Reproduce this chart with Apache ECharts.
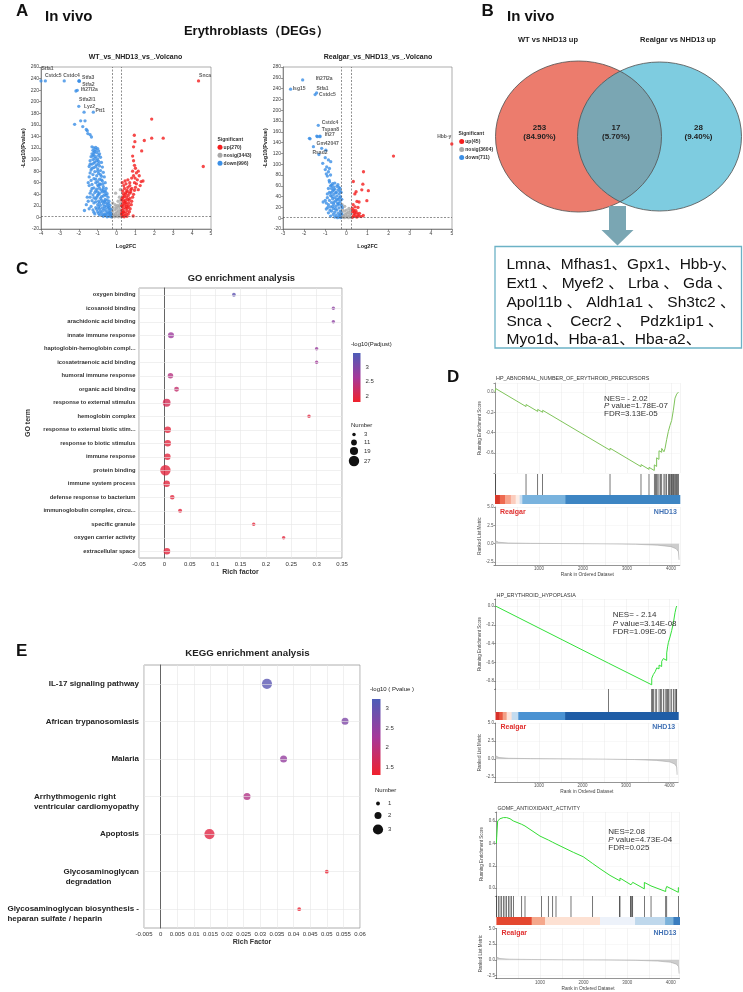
<!DOCTYPE html>
<html><head><meta charset="utf-8">
<script src="https://cdn.jsdelivr.net/npm/echarts@6/dist/echarts.min.js"></script>
<style>html,body{margin:0;padding:0;background:#fff}#c{width:743px;height:992px}</style>
</head><body><div id="c"></div>
<script>
// ================= DATA =================
// ---- Panel A: volcano plots ----
const volcFcCut = 0.25;
const volcPCut = 1.3;
const volcLNames = ['up(270)', 'nosig(3443)', 'down(996)'];
const volcRNames = ['up(45)', 'nosig(3604)', 'down(711)'];
const volcLUp = [[0.3,2],[0.35,5],[0.45,3],[0.3,8],[0.5,7],[0.4,10],[0.28,12],[0.55,12],[0.35,15],[0.48,16],[0.6,17],[0.3,19],[0.42,21],[0.55,22],[0.33,24],[0.5,26],[0.65,25],[0.38,28],[0.45,30],[0.58,31],[0.3,33],[0.52,35],[0.4,37],[0.62,38],[0.35,41],[0.48,43],[0.7,42],[0.32,46],[0.55,47],[0.42,50],[0.75,48],[0.6,52],[0.38,55],[0.5,58],[0.28,30],[0.27,20],[0.26,6],[0.4,1],[0.55,2],[0.62,6],[0.68,10],[0.72,15],[0.65,20],[0.78,22],[0.8,28],[0.7,33],[0.85,35],[0.9,40],[0.75,44],[0.95,47],[0.3,60],[0.45,63],[0.85,106],[0.9,98],[0.95,90],[1.0,85],[0.85,80],[1.05,77],[0.9,72],[1.2,72],[0.8,68],[1.1,65],[1.3,62],[0.95,60],[1.25,55],[0.7,55],[0.8,50],[1.0,52],[1.15,48],[0.9,122],[0.94,142],[0.97,131],[1.47,133],[1.86,170],[1.86,137],[2.47,137],[1.33,115],[4.59,88],[0.88,2.5],[0.6,65],[0.7,60],[1.05,58],[1.4,63],[0.98,68],[1.15,80],[0.35,35],[0.44,25],[0.52,18],[0.36,9],[0.47,40],[0.58,44],[0.66,30]];
const volcLNosig = [[-0.2,2],[-0.1,1],[0,2],[0.1,1],[0.2,3],[-0.15,5],[0.05,4],[0.15,6],[-0.05,7],[0.22,9],[-0.22,10],[0.1,11],[-0.1,13],[0,15],[0.18,14],[-0.18,17],[0.12,18],[0.05,21],[-0.08,22],[0.2,24],[0.22,30],[-0.05,42],[0.2,48],[0.15,35],[-0.2,25],[0.08,28],[-0.12,3],[0.02,9],[-0.25,1],[0.25,1],[-0.02,18],[0.15,20],[-0.3,4],[-0.35,8],[-0.28,14]];
const volcLDown = [[-2.22,161],[-1.9,167],[-1.67,167],[-1.79,157],[-1.55,150],[-1.52,145],[-1.33,139],[-1.4,143],[-1.6,152],[-1.3,122],[-1.2,120],[-1.1,121],[-1.0,119],[-1.25,116],[-1.15,114],[-0.95,115],[-1.05,112],[-1.3,110],[-1.2,108],[-0.9,110],[-1.35,105],[-1.1,105],[-0.85,104],[-1.25,100],[-1.0,101],[-1.4,98],[-0.95,97],[-1.15,96],[-0.8,95],[-1.3,92],[-1.05,91],[-0.9,89],[-1.45,88],[-1.2,86],[-0.75,87],[-1.0,84],[-1.35,82],[-0.85,81],[-1.15,79],[-1.4,77],[-0.95,76],[-0.7,78],[-1.25,74],[-1.05,72],[-0.8,71],[-1.45,70],[-0.65,70],[-1.2,67],[-0.9,66],[-1.35,64],[-1.0,62],[-0.75,63],[-1.1,60],[-0.6,60],[-1.3,57],[-0.85,57],[-1.45,55],[-0.95,54],[-0.7,53],[-1.2,51],[-0.55,50],[-1.05,49],[-0.8,47],[-1.35,46],[-0.65,45],[-1.15,43],[-0.9,42],[-0.5,41],[-1.25,39],[-1.0,38],[-0.7,37],[-1.4,35],[-0.45,35],[-0.85,33],[-1.1,32],[-0.6,31],[-1.3,29],[-0.95,28],[-0.4,28],[-0.75,27],[-1.2,25],[-0.5,24],[-1.0,22],[-0.85,21],[-0.35,21],[-1.35,19],[-0.65,19],[-1.1,17],[-0.45,16],[-0.9,15],[-0.3,14],[-1.25,13],[-0.7,12],[-0.55,11],[-1.0,10],[-0.35,9],[-0.8,8],[-0.45,7],[-1.15,6],[-0.6,5],[-0.3,4],[-0.9,4],[-0.4,2],[-0.7,2],[-0.28,1],[-0.5,1],[-1.5,28],[-1.6,22],[-1.55,35],[-1.45,15],[-1.7,12],[-1.0,56],[-0.9,50],[-1.1,46],[-0.75,44],[-0.95,40],[-1.05,35],[-0.8,36],[-0.55,38],[-0.65,28],[-0.9,25],[-1.1,27],[-0.55,20],[-0.75,16],[-0.95,18],[-0.4,12],[-0.6,15],[-0.85,11],[-0.5,8],[-0.65,6],[-0.75,4],[-0.35,5],[-0.55,3],[-1.05,14],[-1.2,9],[-0.95,7],[-0.45,19],[-0.7,23],[-0.6,26],[-0.5,30],[-0.8,30],[-1.2,34],[-1.0,44],[-0.7,49],[-0.9,58],[-1.1,66],[-0.85,74],[-1.0,80],[-1.1,88],[-0.95,93],[-1.2,94],[-1.05,98],[-1.15,102],[-1.25,106],[-0.95,107],[-1.1,117],[-1.2,112],[-0.3,7],[-0.38,17],[-0.42,24],[-0.62,40],[-0.72,58],[-0.58,45],[-0.8,65],[-1.3,85],[-1.4,92],[-1.5,60],[-1.3,50],[-1.4,42]];
const volcLLabeled = [[-4.0,236,'Stfa1'],[-3.77,236,''],[-2.77,236,'Cstdc5'],[-1.99,236,'Cstdc4'],[-1.98,236,'Stfa3'],[-1.97,235.5,'Stfa2'],[-2.15,218.5,''],[-2.08,219.7,'Ifi27l2a'],[-2.0,192,'Stfa2l1'],[-1.72,182,'Lyz2'],[-1.23,182,'Ptt1'],[4.34,236,'Snca']];
const volcRUp = [[0.33,68],[0.81,86],[0.78,63],[0.46,49],[0.73,52.6],[1.04,51],[0.97,32.4],[0.5,31],[0.41,21],[2.23,115],[0.3,2],[0.35,5],[0.45,3],[0.4,8],[0.5,10],[0.3,12],[0.55,6],[0.6,4],[0.35,15],[0.45,14],[0.7,3],[0.28,18],[0.5,2],[0.62,9],[0.38,11],[0.8,5],[0.32,25],[0.4,45],[0.6,30],[0.55,20]];
const volcRNosig = [[-0.2,2],[-0.1,1],[0,2],[0.1,1],[0.2,3],[-0.15,5],[0.05,4],[0.15,6],[-0.05,7],[0.22,9],[-0.22,10],[0.1,11],[-0.1,13],[0,15],[0.18,14],[-0.18,17],[0.12,18],[-0.08,22],[-0.2,25],[0.02,9],[-0.12,3],[0.25,1],[-0.25,12],[-0.3,6]];
const volcRDown = [[-1.72,147],[-1.4,152],[-1.25,152],[-0.97,126],[-1.12,101.6],[-0.85,108],[-0.74,104.6],[-0.93,95],[-0.85,86],[-0.81,70],[-0.7,61],[-1.75,148],[-1.3,118],[-1.0,112],[-0.75,60],[-0.6,58],[-0.45,59],[-0.35,57],[-0.7,55],[-0.55,54],[-0.4,52],[-0.3,50],[-0.65,50],[-0.8,48],[-0.5,47],[-0.35,45],[-0.6,44],[-0.75,42],[-0.45,41],[-0.28,40],[-0.55,38],[-0.9,38],[-0.65,36],[-0.38,35],[-0.8,33],[-0.5,32],[-0.3,31],[-0.7,29],[-0.42,28],[-0.6,26],[-0.85,25],[-0.25,24],[-0.5,22],[-0.75,21],[-0.35,19],[-0.62,18],[-0.95,17],[-0.45,15],[-0.28,13],[-0.7,13],[-0.55,11],[-0.85,10],[-0.38,9],[-0.62,7],[-0.3,6],[-0.48,5],[-0.75,4],[-0.35,3],[-0.55,2],[-0.27,1],[-0.42,1],[-1.1,30],[-1.0,33],[-0.95,28],[-0.9,45],[-0.85,55],[-0.65,64],[-0.55,65],[-0.8,67],[-0.9,78],[-0.95,82],[-1.0,90],[-0.8,92],[-0.75,80],[-0.4,62],[-0.3,55],[-0.25,48],[-0.22,35],[-0.2,20],[-0.22,8],[-0.58,30],[-0.68,40],[-0.48,48],[-0.32,38],[-0.78,15],[-0.88,20],[-0.52,17],[-0.4,25],[-0.65,22],[-0.45,35],[-0.72,47],[-0.6,52],[-0.35,27]];
const volcRLabeled = [[-2.07,256,'Ifi27l2a'],[-2.64,239,'Isg15'],[-1.48,229,'Stfa1'],[-1.41,232,'Cstdc5'],[-1.33,172,'Cstdc4'],[-1.37,151,'Tspan8'],[-1.25,151,'Ifi27'],[-1.56,132.4,'Gm42047'],[-1.17,129.4,'Rsad2'],[4.99,137.4,'Hbb-y']];

// ---- Panel B: Venn ----
const vennSets = ['WT vs NHD13 up', 'Realgar vs NHD13 up'];
const vennCounts = [253, 17, 28];
const vennPct = ['84.90%', '5.70%', '9.40%'];
const geneLines = ['Lmna、Mfhas1、Gpx1、Hbb-y、', 'Ext1 、 Myef2 、 Lrba 、 Gda 、', 'Apol11b 、 Aldh1a1 、 Sh3tc2 、', 'Snca 、  Cecr2 、  Pdzk1ip1 、', 'Myo1d、Hba-a1、Hba-a2、'];

// ---- Panel C: GO ----
const goTerms = ['oxygen binding','icosanoid binding','arachidonic acid binding','innate immune response','haptoglobin-hemoglobin compl...','icosatetraenoic acid binding','humoral immune response','organic acid binding','response to external stimulus','hemoglobin complex','response to external biotic stim...','response to biotic stimulus','immune response','protein binding','immune system process','defense response to bacterium','immunoglobulin complex, circu...','specific granule','oxygen carrier activity','extracellular space'];
const goRich = [0.137,0.333,0.333,0.013,0.300,0.300,0.012,0.024,0.0045,0.285,0.0065,0.0065,0.006,0.002,0.0045,0.0155,0.031,0.176,0.235,0.005];
const goNumber = [4,3,3,12,3,3,10,8,18,3,14,14,13,27,14,7,5,3,3,14];
const goLogP = [3.3,2.85,2.85,2.7,2.75,2.65,2.45,2.3,2.1,1.95,1.93,1.93,1.93,1.93,1.93,1.93,1.93,1.9,1.93,1.93];
const goColorTicks = [3, 2.5, 2];
const goSizeTicks = [3, 11, 19, 27];

// ---- Panel E: KEGG ----
const keggTerms = ['IL-17 signaling pathway','African trypanosomiasis','Malaria','Arrhythmogenic right\nventricular cardiomyopathy','Apoptosis','Glycosaminoglycan\n degradation','Glycosaminoglycan biosynthesis -\nheparan sulfate / heparin'];
const keggRich = [0.032,0.0555,0.037,0.026,0.0147,0.050,0.0417];
const keggNumber = [3,2,2,2,3,1,1];
const keggLogP = [3.1,2.7,2.45,2.1,1.5,1.35,1.35];
const keggColorTicks = [3, 2.5, 2, 1.5];
const keggSizeTicks = [1, 2, 3];

// ---- Panel D: GSEA ----
const gseaTitles = ['HP_ABNORMAL_NUMBER_OF_ERYTHROID_PRECURSORS','HP_ERYTHROID_HYPOPLASIA','GOMF_ANTIOXIDANT_ACTIVITY'];
const gseaNES = ['NES= - 2.02','NES= - 2.14','NES=2.08'];
const gseaP = ['1.78E-07','3.14E-08','4.73E-04'];
const gseaFDR = ['FDR=3.13E-05','FDR=1.09E-05','FDR=0.025'];
const gseaGroups = ['Realgar','NHD13'];
const gseaRankMax = 4200;
const gsea1EsTicks = ['0.0','-0.2','-0.4','-0.6'];
const gsea2EsTicks = ['0.0','-0.2','-0.4','-0.6','-0.8'];
const gsea3EsTicks = ['0.6','0.4','0.2','0.0'];
const gsea1Curve = [[0,0.0],[15,0.035],[705,-0.143],[706,-0.123],[970,-0.191],[971,-0.171],[1083,-0.2],[1084,-0.18],[2614,-0.575],[2615,-0.555],[3318,-0.737],[3319,-0.717],[3500,-0.764],[3501,-0.744],[3620,-0.775],[3621,-0.72],[3673,-0.735],[3674,-0.65],[3726,-0.665],[3727,-0.58],[3788,-0.595],[3789,-0.557],[3840,-0.59],[3864,-0.597],[3865,-0.557],[3900,-0.567],[3901,-0.47],[3938,-0.48],[3939,-0.39],[3976,-0.4],[3977,-0.33],[4014,-0.34],[4015,-0.28],[4052,-0.29],[4053,-0.18],[4090,-0.19],[4091,-0.06],[4128,-0.07],[4129,-0.02],[4168,-0.03],[4169,0.0],[4183,0.0]];
const gsea1Hits = [15,705,970,1083,2614,3318,3500,3621,3645,3674,3700,3727,3760,3789,3840,3865,3901,3939,3960,3977,4000,4015,4035,4053,4070,4091,4110,4129,4150,4169];
const gsea1Bar = [[0,110],[110,230],[230,360],[360,470],[470,560],[560,620],[620,1600],[1600,4200]];
const gsea1BarColors = ['#D93A2B','#EE6A50','#F7A38C','#FBCDBE','#FDEEE8','#C9DEF1','#79B3DE','#3D85C3'];
const gsea1Metric = [[0,0.45],[20,0.3],[80,0.2],[300,0.1],[800,0.05],[1500,0.02],[2500,-0.02],[3200,-0.08],[3700,-0.2],[4000,-0.4],[4120,-0.7],[4170,-1.1],[4183,-2.2]];
const gsea2Curve = [[0,0],[2600,-0.61],[2601,-0.595],[3591,-0.84],[3592,-0.77],[3628,-0.78],[3629,-0.73],[3670,-0.74],[3671,-0.7],[3705,-0.71],[3706,-0.66],[3759,-0.67],[3760,-0.63],[3820,-0.645],[3821,-0.59],[3858,-0.6],[3859,-0.56],[3935,-0.58],[3936,-0.5],[3955,-0.505],[3956,-0.435],[3973,-0.44],[3974,-0.39],[4011,-0.4],[4012,-0.33],[4050,-0.34],[4051,-0.26],[4088,-0.27],[4089,-0.18],[4126,-0.19],[4127,-0.07],[4150,-0.075],[4151,-0.02],[4164,-0.025],[4165,0.0],[4175,0.0]];
const gsea2Hits = [2600,3591,3610,3628,3671,3706,3760,3790,3821,3859,3900,3936,3956,3974,4012,4051,4089,4127,4151,4165];
const gsea2Bar = [[0,90],[90,165],[165,256],[256,371],[371,524],[524,1600],[1600,4200]];
const gsea2BarColors = ['#D7302A','#E9573F','#F3A086','#FBE5DC','#C4DCF0','#4A92D2','#1F5DA6'];
const gsea2Metric = [[0,0.45],[20,0.3],[80,0.2],[300,0.1],[800,0.05],[1500,0.02],[2500,-0.02],[3200,-0.08],[3700,-0.2],[4000,-0.4],[4120,-0.7],[4165,-1.1],[4175,-2.2]];
const gsea3Curve = [[0,0.40],[6,0.45],[29,0.60],[44,0.605],[64,0.615],[83,0.62],[121,0.63],[159,0.63],[197,0.632],[235,0.63],[271,0.625],[312,0.62],[389,0.60],[580,0.57],[656,0.555],[694,0.55],[1000,0.465],[1038,0.46],[1191,0.43],[1291,0.41],[1367,0.395],[1711,0.33],[1765,0.32],[1994,0.28],[2208,0.22],[2376,0.174],[2606,0.114],[2834,0.065],[2835,0.09],[3087,0.03],[3088,0.045],[3126,0.04],[3127,0.052],[3393,-0.006],[3394,0.051],[3546,0.02],[3547,0.03],[3883,-0.03],[3884,-0.01],[3906,-0.015],[3907,0.015],[4173,-0.037],[4174,0.005],[4190,0.0]];
const gsea3Hits = [6,44,83,121,159,197,235,274,312,350,389,580,656,1038,1191,1291,1367,1711,2208,2825,2835,3080,3088,3110,3126,3394,3547,3884,3907,4174];
const gsea3Bar = [[0,809],[809,1115],[1115,2376],[2376,3180],[3180,3869],[3869,4060],[4060,4200]];
const gsea3BarColors = ['#E4472F','#F5A88C','#FDE1D3','#EDF2FA','#BFD8EC','#7BB2DA','#3A7DBF'];
const gsea3Metric = [[0,0.45],[20,0.3],[80,0.2],[300,0.1],[800,0.05],[1500,0.02],[2500,-0.02],[3200,-0.08],[3700,-0.2],[4000,-0.4],[4130,-0.7],[4180,-1.1],[4190,-2.2]];

// ================= BUILD =================
const FONT = '"Liberation Sans", Arial, Helvetica, sans-serif';
const C_UP = '#F41D1D', C_NS = '#A8A8A8', C_DN = '#3B8FE6';
const GRAD = ['#F0212C', '#A5389A', '#4D5DB8'];
const grid = [], xAxis = [], yAxis = [], series = [], graphic = [], visualMap = [];

function T(x, y, text, o) {
  graphic.push({type: 'text', x: x, y: y, silent: true, z: 100,
    style: Object.assign({text: String(text), fontFamily: FONT, fontSize: 6, fill: '#222', align: 'left', verticalAlign: 'middle'}, o || {})});
}
function addGrid(l, t, w, h, extra) {
  grid.push(Object.assign({left: l, top: t, width: w, height: h, containLabel: false}, extra || {}));
  return grid.length - 1;
}

// ---------- Volcano ----------
function volcano(cfg) {
  const gi = addGrid(cfg.rect[0], cfg.rect[1], cfg.rect[2], cfg.rect[3], {show: true, borderColor: '#777', borderWidth: 0.6});
  const axLine = {onZero: false, lineStyle: {color: '#555', width: 0.6}};
  xAxis.push({gridIndex: gi, type: 'value', min: cfg.xMin, max: cfg.xMax, interval: 1, axisLine: axLine,
    axisTick: {length: 2, lineStyle: {color: '#555', width: 0.6}},
    axisLabel: {fontSize: 5, color: '#444', margin: 2, fontFamily: FONT}, splitLine: {show: false},
    name: 'Log2FC', nameLocation: 'middle', nameGap: 14, nameTextStyle: {fontSize: 5.5, fontWeight: 'bold', color: '#222', fontFamily: FONT}});
  yAxis.push({gridIndex: gi, type: 'value', min: -20, max: cfg.yMax, interval: 20, axisLine: axLine,
    axisTick: {length: 2, lineStyle: {color: '#555', width: 0.6}},
    axisLabel: {fontSize: 5, color: '#444', margin: 2, fontFamily: FONT}, splitLine: {show: false},
    name: '-Log10(Pvalue)', nameLocation: 'middle', nameGap: cfg.yGap, nameRotate: 90,
    nameTextStyle: {fontSize: 5.5, fontWeight: 'bold', color: '#222', fontFamily: FONT}});
  const base = {type: 'scatter', xAxisIndex: gi, yAxisIndex: gi, symbolSize: 3.3, silent: true, animation: false};
  series.push(Object.assign({}, base, {name: cfg.names[1], data: cfg.nosig, itemStyle: {color: C_NS},
    markLine: {silent: true, symbol: ['none', 'none'], label: {show: false}, animation: false,
      lineStyle: {type: [2, 1.5], color: '#444', width: 0.6},
      data: [{xAxis: -volcFcCut}, {xAxis: volcFcCut}, {yAxis: volcPCut}]}}));
  series.push(Object.assign({}, base, {name: cfg.names[0], data: cfg.up, itemStyle: {color: C_UP}}));
  series.push(Object.assign({}, base, {name: cfg.names[2], data: cfg.down, itemStyle: {color: C_DN}}));
  const lab = cfg.labeled.map(p => ({
    value: [p[0], p[1]],
    itemStyle: {color: p[0] > 0 ? C_UP : C_DN},
    label: {show: !!p[2], formatter: p[2], position: 'inside', offset: cfg.offsets[p[2]] || [0, 0],
      fontSize: 5, fontWeight: 'bold', color: '#333', fontFamily: FONT}
  }));
  series.push(Object.assign({}, base, {name: 'labeled', data: lab, z: 5}));
  T(cfg.leg[0], cfg.leg[1], 'Significant', {fontSize: 5, fontWeight: 'bold', fill: '#333'});
  const cols = [C_UP, C_NS, C_DN];
  cfg.names.forEach((n, i) => {
    const y = cfg.leg[1] + 8 * (i + 1);
    graphic.push({type: 'circle', silent: true, shape: {cx: cfg.leg[2], cy: y, r: 2.5}, style: {fill: cols[i]}});
    T(cfg.leg[2] + 3.6, y, n, {fontSize: 5, fontWeight: 'bold', fill: '#333'});
  });
}
volcano({rect: [41, 67, 170, 162], xMin: -4, xMax: 5, yMax: 260, yGap: 15, names: volcLNames,
  up: volcLUp, nosig: volcLNosig, down: volcLDown, labeled: volcLLabeled,
  offsets: {Stfa1: [6.5, -12], Cstdc5: [-11, -5], Cstdc4: [-7.5, -5], Stfa3: [9, -3], Stfa2: [9, 3.5], Ifi27l2a: [12, -0.5], Stfa2l1: [8.5, -7], Lyz2: [5.5, -6], Ptt1: [7, -2], Snca: [6.5, -5]},
  leg: [217.5, 139.3, 220]});
volcano({rect: [283, 67, 169, 162], xMin: -3, xMax: 5, yMax: 280, yGap: 13.5, names: volcRNames,
  up: volcRUp, nosig: volcRNosig, down: volcRDown, labeled: volcRLabeled,
  offsets: {Ifi27l2a: [21.5, -1.5], Isg15: [8.5, -1], Stfa1: [7.4, -6.2], Cstdc5: [10.8, 1.3], Cstdc4: [11.7, -2.6], Tspan8: [13, -7.4], Ifi27: [9.7, -1.7], Gm42047: [14.2, -3.4], Rsad2: [-1.7, 4.4], 'Hbb-y': [-7.5, -7.3]},
  leg: [458.5, 133.5, 461.7]});

T(135.5, 57.3, 'WT_vs_NHD13_vs_.Volcano', {fontSize: 7, fontWeight: 'bold', align: 'center'});
T(378, 57.3, 'Realgar_vs_NHD13_vs_.Volcano', {fontSize: 7, fontWeight: 'bold', align: 'center'});
T(16, 11, 'A', {fontSize: 17, fontWeight: 'bold', fill: '#111'});
T(45, 16.5, 'In vivo', {fontSize: 15, fontWeight: 'bold', fill: '#111'});
T(256.5, 31.5, 'Erythroblasts（DEGs）', {fontSize: 13, fontWeight: 'bold', align: 'center', fill: '#111'});

// ---------- Venn ----------
T(481.5, 11, 'B', {fontSize: 17, fontWeight: 'bold', fill: '#111'});
T(507, 17, 'In vivo', {fontSize: 15, fontWeight: 'bold', fill: '#111'});
const vL = {cx: 578.5, cy: 136.5, rx: 83, ry: 75.5}, vR = {cx: 659.5, cy: 136.5, rx: 82, ry: 74.5};
function ell(e, style) {
  graphic.push({type: 'circle', silent: true, x: e.cx, y: e.cy, scaleX: e.rx / e.ry, scaleY: 1,
    shape: {cx: 0, cy: 0, r: e.ry}, style: style});
}
ell(vL, {fill: '#EC7C6D'});
ell(vR, {fill: '#7ECCE0'});
(function () {
  const pts = [];
  const xi = (vL.cx + vL.rx + vR.cx - vR.rx) / 2;
  const tL = Math.acos((xi - vL.cx) / vL.rx), tR = Math.acos((vR.cx - xi) / vR.rx);
  for (let k = 0; k <= 40; k++) { const t = -tL + 2 * tL * k / 40; pts.push([vL.cx + vL.rx * Math.cos(t), vL.cy + vL.ry * Math.sin(t)]); }
  for (let k = 0; k <= 40; k++) { const t = Math.PI - tR + 2 * tR * k / 40; pts.push([vR.cx + vR.rx * Math.cos(t), vR.cy + vR.ry * Math.sin(t)]); }
  graphic.push({type: 'polygon', silent: true, shape: {points: pts}, style: {fill: '#7AA6B3'}});
})();
ell(vL, {fill: 'none', stroke: '#555', lineWidth: 0.8});
ell(vR, {fill: 'none', stroke: '#555', lineWidth: 0.8});
T(548, 40, vennSets[0], {fontSize: 7.5, fontWeight: 'bold', align: 'center'});
T(678, 40, vennSets[1], {fontSize: 7.5, fontWeight: 'bold', align: 'center'});
const vennX = [539.5, 616, 698.5];
vennCounts.forEach((c, i) => {
  T(vennX[i], 127.7, c, {fontSize: 8, fontWeight: 'bold', align: 'center', fill: '#222'});
  T(vennX[i], 136.7, '(' + vennPct[i] + ')', {fontSize: 8, fontWeight: 'bold', align: 'center', fill: '#222'});
});
graphic.push({type: 'polygon', silent: true, shape: {points: [[609, 206], [626, 206], [626, 230], [633.5, 230], [617.5, 245.5], [601.5, 230], [609, 230]]}, style: {fill: '#7AA6B3'}});
graphic.push({type: 'rect', silent: true, shape: {x: 495, y: 246.5, width: 246.5, height: 101.5}, style: {fill: 'none', stroke: '#6CB2C6', lineWidth: 1.3}});
geneLines.forEach((ln, i) => {
  T(506.5, 265 + i * 18.8, ln, {fontSize: 15.5, fontFamily: '"Liberation Sans", Arial, "Noto Sans CJK SC", sans-serif', fill: '#111'});
});

// ---------- GO (panel C) ----------
T(16, 269.5, 'C', {fontSize: 17, fontWeight: 'bold', fill: '#111'});
T(241.3, 278.3, 'GO enrichment analysis', {fontSize: 9.4, fontWeight: 'bold', align: 'center'});
const goSize = n => 2.6 + n * 0.29;
const keggSize = n => 0.6 + n * 3.2;

function enrich(cfg) {
  const gi = addGrid(cfg.rect[0], cfg.rect[1], cfg.rect[2], cfg.rect[3], {show: true, borderColor: '#999', borderWidth: 0.8});
  xAxis.push({gridIndex: gi, type: 'value', min: cfg.xMin, max: cfg.xMax, interval: cfg.xInt,
    axisLine: {onZero: false, lineStyle: {color: '#555', width: 0.9}},
    axisTick: {length: 2.5, lineStyle: {color: '#555', width: 0.7}},
    axisLabel: {fontSize: 6, color: '#333', margin: 3, fontFamily: FONT, formatter: v => String(+v.toFixed(4))},
    splitLine: {show: true, lineStyle: {color: '#e6e6e6', width: 0.6}},
    name: cfg.xName, nameLocation: 'middle', nameGap: cfg.xGap,
    nameTextStyle: {fontSize: 7, fontWeight: 'bold', color: '#333', fontFamily: FONT}});
  yAxis.push(Object.assign({gridIndex: gi, type: 'category', data: cfg.terms, inverse: true, boundaryGap: true,
    axisLine: {lineStyle: {color: '#555', width: 0.9}},
    axisTick: {alignWithLabel: true, length: 2.5, lineStyle: {color: '#555', width: 0.7}},
    axisLabel: cfg.yLabel, splitLine: {show: false}}, cfg.yName || {}));
  series.push({type: 'scatter', xAxisIndex: gi, yAxisIndex: gi, data: [[cfg.rich[0], cfg.terms[0]]], symbolSize: 0, silent: true, z: 1,
    markLine: {silent: true, symbol: ['none', 'none'], label: {show: false}, animation: false,
      lineStyle: {color: '#e6e6e6', width: 0.6, type: 'solid'}, data: cfg.terms.map(t => ({yAxis: t}))}});
  series.push({type: 'scatter', xAxisIndex: gi, yAxisIndex: gi, silent: true, z: 3, animation: false,
    data: cfg.terms.map((t, i) => [cfg.rich[i], t, cfg.num[i], cfg.logp[i]]),
    symbolSize: d => cfg.size(d[2])});
  visualMap.push({type: 'continuous', show: false, seriesIndex: series.length - 1, dimension: 3,
    min: cfg.cMin, max: cfg.cMax, inRange: {color: GRAD}});
  const cb = cfg.cbar;
  T(cb.tx, cb.ty, cfg.cTitle, {fontSize: 6, fill: '#222'});
  graphic.push({type: 'rect', silent: true, shape: {x: cb.x, y: cb.y, width: cb.w, height: cb.h},
    style: {fill: {type: 'linear', x: 0, y: 0, x2: 0, y2: 1, colorStops: [{offset: 0, color: GRAD[2]}, {offset: 0.5, color: GRAD[1]}, {offset: 1, color: GRAD[0]}]}}});
  cfg.cTicks.forEach(v => {
    const y = cb.y + (cfg.cMax - v) / (cfg.cMax - cfg.cMin) * cb.h;
    T(cb.x + cb.w + 5, y, v, {fontSize: 6, fill: '#333'});
  });
  const sl = cfg.slegend;
  T(sl.x - 3, sl.ty, 'Number', {fontSize: 6, fill: '#222'});
  cfg.sTicks.forEach((n, i) => {
    const y = sl.ys[i];
    graphic.push({type: 'circle', silent: true, shape: {cx: sl.x, cy: y, r: cfg.size(n) / 2}, style: {fill: '#111'}});
    T(sl.x + 10, y, n, {fontSize: 6, fill: '#333'});
  });
}
enrich({rect: [139, 288, 203, 270], xMin: -0.05, xMax: 0.35, xInt: 0.05, xName: 'Rich factor', xGap: 11,
  terms: goTerms, rich: goRich, num: goNumber, logp: goLogP, size: goSize, cMin: 1.8, cMax: 3.48,
  yLabel: {fontSize: 5.8, fontWeight: 'bold', color: '#333', margin: 3.5, interval: 0, fontFamily: FONT},
  yName: {name: 'GO term', nameLocation: 'middle', nameGap: 107, nameRotate: 90,
    nameTextStyle: {fontSize: 7, fontWeight: 'bold', color: '#333', fontFamily: FONT}},
  cTitle: '-log10(Padjust)', cbar: {tx: 351, ty: 344, x: 353, y: 353, w: 7.5, h: 49},
  cTicks: goColorTicks, sTicks: goSizeTicks, slegend: {x: 354, ty: 425, ys: [434.5, 442.5, 451, 461]}});

// ---------- KEGG (panel E) ----------
T(16, 651, 'E', {fontSize: 17, fontWeight: 'bold', fill: '#111'});
T(247.5, 653.3, 'KEGG enrichment analysis', {fontSize: 9.7, fontWeight: 'bold', align: 'center'});
enrich({rect: [144, 665, 216, 263], xMin: -0.005, xMax: 0.06, xInt: 0.005, xName: 'Rich Factor', xGap: 11,
  terms: keggTerms, rich: keggRich, num: keggNumber, logp: keggLogP, size: keggSize, cMin: 1.3, cMax: 3.25,
  yLabel: {fontSize: 8, fontWeight: 'bold', color: '#222', margin: 5, interval: 0, fontFamily: FONT,
    formatter: v => v.indexOf('\n') < 0 ? v : '{l| }\n' + v.split('\n').map(s => '{l|' + s + '}').join('\n'),
    rich: {l: {align: 'left', fontSize: 8, fontWeight: 'bold', color: '#222', lineHeight: 10, fontFamily: FONT}}},
  cTitle: '-log10 ( Pvalue )', cbar: {tx: 370, ty: 689, x: 372, y: 699, w: 8.5, h: 76},
  cTicks: keggColorTicks, sTicks: keggSizeTicks, slegend: {x: 378, ty: 790, ys: [803.5, 815.5, 829.5]}});

// ---------- GSEA (panel D) ----------
T(447, 377, 'D', {fontSize: 17, fontWeight: 'bold', fill: '#111'});
function gsea(k, cfg) {
  const xl = cfg.x0, w = cfg.x1 - cfg.x0;
  const lineC = '#333';
  const smallLab = {fontSize: 4.5, color: '#555', margin: 1.5, fontFamily: FONT};
  let gi = addGrid(xl, cfg.top[0], w, cfg.top[1] - cfg.top[0]);
  xAxis.push({gridIndex: gi, type: 'value', min: 0, max: gseaRankMax, interval: 500, axisLabel: {show: false}, axisTick: {show: false}, axisLine: {show: false},
    splitLine: {show: true, lineStyle: {color: '#e8e8e8', width: 0.5}}});
  yAxis.push({gridIndex: gi, type: 'value', min: cfg.top[2], max: cfg.top[3], splitNumber: 4, minInterval: 0.2, maxInterval: 0.2,
    axisLine: {show: true, onZero: false, lineStyle: {color: lineC, width: 0.5}}, axisTick: {show: true, length: 1.5, lineStyle: {color: lineC, width: 0.5}},
    axisLabel: Object.assign({}, smallLab, {formatter: v => cfg.esTicks.indexOf((Math.abs(v) < 1e-9 ? 0 : v).toFixed(1)) >= 0 && Math.abs(v / 0.2 - Math.round(v / 0.2)) < 1e-6 ? (Math.abs(v) < 1e-9 ? 0 : v).toFixed(1) : ''}),
    splitLine: {show: true, lineStyle: {color: '#f0f0f0', width: 0.5}},
    name: 'Running Enrichment Score', nameLocation: 'middle', nameGap: 10.5, nameRotate: 90, nameTextStyle: {fontSize: 4.5, color: '#444', fontFamily: FONT}});
  series.push({type: 'line', xAxisIndex: gi, yAxisIndex: gi, data: cfg.curve, showSymbol: false, silent: true, animation: false,
    lineStyle: {color: cfg.color, width: 1}, z: 4});
  gi = addGrid(xl, cfg.hits[0], w, cfg.hits[1] - cfg.hits[0]);
  xAxis.push({gridIndex: gi, type: 'value', min: 0, max: gseaRankMax, show: false});
  yAxis.push({gridIndex: gi, type: 'value', min: 0, max: 1, axisLabel: {show: false}, axisTick: {show: false}, splitLine: {show: false},
    axisLine: {show: true, lineStyle: {color: lineC, width: 0.5}}});
  series.push({type: 'scatter', xAxisIndex: gi, yAxisIndex: gi, data: cfg.hitsData.map(r => [r, 0.5]), symbol: 'rect',
    symbolSize: [0.7, cfg.hits[1] - cfg.hits[0]], itemStyle: {color: '#1a1a1a', opacity: 0.85}, silent: true, animation: false});
  gi = addGrid(xl, cfg.cb[0], w, cfg.cb[1] - cfg.cb[0]);
  xAxis.push({gridIndex: gi, type: 'value', min: 0, max: gseaRankMax, show: false});
  yAxis.push({gridIndex: gi, type: 'value', min: 0, max: 1, show: false});
  const cols = cfg.barColors;
  series.push({type: 'custom', xAxisIndex: gi, yAxisIndex: gi, data: cfg.bar, encode: {x: [0, 1]}, silent: true, animation: false,
    renderItem: (params, api) => {
      const a = api.coord([api.value(0), 1]), b = api.coord([api.value(1), 0]);
      return {type: 'rect', shape: {x: a[0], y: a[1], width: b[0] - a[0] + 0.5, height: b[1] - a[1]}, style: {fill: cols[params.dataIndex]}};
    }});
  gi = addGrid(xl, cfg.met[0], w, cfg.met[1] - cfg.met[0]);
  xAxis.push({gridIndex: gi, type: 'value', min: 0, max: gseaRankMax, interval: 500,
    axisLine: {onZero: false, lineStyle: {color: lineC, width: 0.5}}, axisTick: {show: false},
    axisLabel: Object.assign({}, smallLab, {formatter: v => (v > 0 && v % 1000 === 0) ? String(v) : ''}),
    splitLine: {show: true, lineStyle: {color: '#e8e8e8', width: 0.5}},
    name: 'Rank in Ordered Dataset', nameLocation: 'middle', nameGap: 6, nameTextStyle: {fontSize: 4.8, color: '#444', fontFamily: FONT}});
  yAxis.push({gridIndex: gi, type: 'value', min: cfg.met[2], max: cfg.met[3], splitNumber: 3, minInterval: 2.5, maxInterval: 2.5,
    axisLine: {show: true, onZero: false, lineStyle: {color: lineC, width: 0.5}}, axisTick: {show: true, length: 1.5, lineStyle: {color: lineC, width: 0.5}},
    axisLabel: Object.assign({}, smallLab, {formatter: v => Math.abs(v / 2.5 - Math.round(v / 2.5)) < 1e-6 ? (Math.abs(v) < 1e-9 ? 0 : v).toFixed(1) : ''}),
    splitLine: {show: true, lineStyle: {color: '#f0f0f0', width: 0.5}},
    name: 'Ranked List Metric', nameLocation: 'middle', nameGap: 10.5, nameRotate: 90, nameTextStyle: {fontSize: 4.5, color: '#444', fontFamily: FONT}});
  series.push({type: 'line', xAxisIndex: gi, yAxisIndex: gi, data: cfg.metric, showSymbol: false, silent: true, animation: false,
    lineStyle: {color: '#9a9a9a', width: 0.5}, areaStyle: {color: '#b8b8b8', origin: 0}});
  T(cfg.x0 + 1, cfg.titleY, gseaTitles[k], {fontSize: 5.4, fill: '#333'});
  T(cfg.sx, cfg.sy[0], gseaNES[k], {fontSize: 8, fill: '#333'});
  graphic.push({type: 'text', x: cfg.sx, y: cfg.sy[1], silent: true, z: 100,
    style: {text: '{i|P} value=' + gseaP[k], fontFamily: FONT, fontSize: 8, fill: '#333', verticalAlign: 'middle',
      rich: {i: {fontStyle: 'italic', fontFamily: FONT, fontSize: 8, fill: '#333'}}}});
  T(cfg.sx, cfg.sy[2], gseaFDR[k], {fontSize: 8, fill: '#333'});
  T(cfg.x0 + 5, cfg.grpY, gseaGroups[0], {fontSize: 7, fontWeight: 'bold', fill: '#E0302F'});
  T(cfg.x1 - 3, cfg.grpY, gseaGroups[1], {fontSize: 7, fontWeight: 'bold', fill: '#4272B5', align: 'right'});
}
gsea(0, {x0: 495, x1: 679.8, top: [383, 473, -0.8, 0.09], hits: [474, 495], cb: [495, 504], met: [507, 565, -2.9, 5],
  curve: gsea1Curve, hitsData: gsea1Hits, bar: gsea1Bar, barColors: gsea1BarColors, metric: gsea1Metric, color: '#7FC45A', esTicks: gsea1EsTicks,
  titleY: 378.3, sx: 604, sy: [398.3, 406.2, 414], grpY: 511.7});
gsea(1, {x0: 495.5, x1: 678.2, top: [599, 689, -0.885, 0.075], hits: [689, 712], cb: [712, 720], met: [723, 782, -3.2, 5],
  curve: gsea2Curve, hitsData: gsea2Hits, bar: gsea2Bar, barColors: gsea2BarColors, metric: gsea2Metric, color: '#33E03A', esTicks: gsea2EsTicks,
  titleY: 596, sx: 612.7, sy: [615, 623.3, 631.7], grpY: 727.3});
gsea(2, {x0: 496.4, x1: 679.5, top: [812, 896, -0.07, 0.68], hits: [896, 917], cb: [917, 925], met: [928.5, 983, -3.0, 5],
  curve: gsea3Curve, hitsData: gsea3Hits, bar: gsea3Bar, barColors: gsea3BarColors, metric: gsea3Metric, color: '#33DD33', esTicks: gsea3EsTicks,
  titleY: 808.3, sx: 608.3, sy: [831.7, 840, 848], grpY: 932.7});

const chart = echarts.init(document.getElementById('c'), null, {renderer: 'canvas', width: 743, height: 992});
chart.setOption({
  animation: false,
  backgroundColor: '#ffffff',
  textStyle: {fontFamily: FONT},
  grid: grid, xAxis: xAxis, yAxis: yAxis, series: series, visualMap: visualMap, graphic: graphic
});
</script></body></html>
